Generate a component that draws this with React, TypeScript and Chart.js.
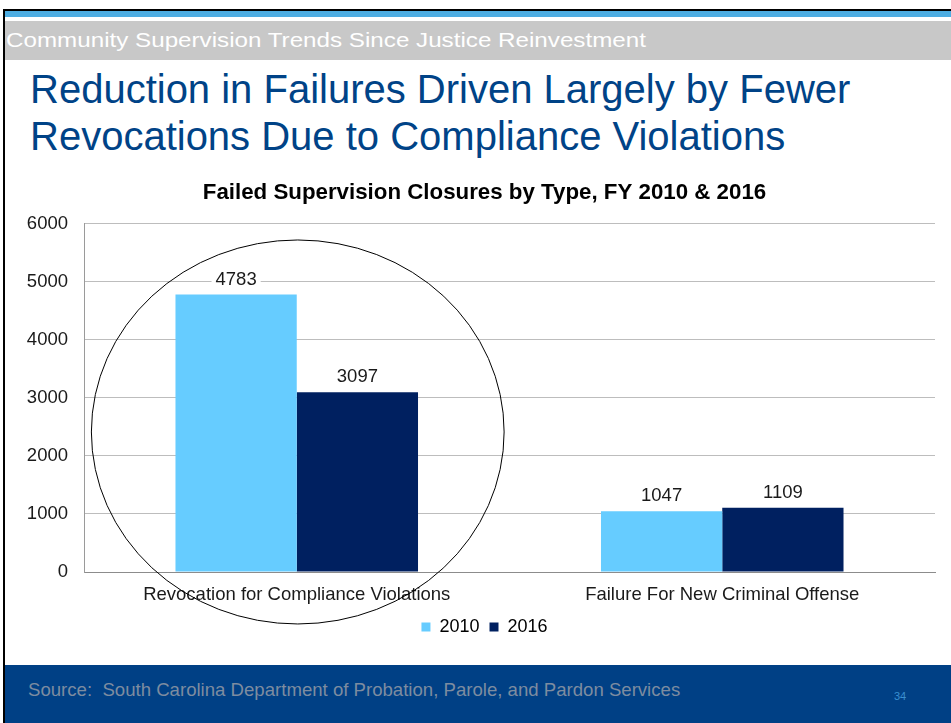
import React, { useEffect, useRef } from "react";
import { Chart, registerables } from "chart.js";

Chart.register(...registerables);

// ---- data ----
const categories = ["Revocation for Compliance Violations", "Failure For New Criminal Offense"];
const seriesNames = ["2010", "2016"];
const values2010 = [4783, 1047];
const values2016 = [3097, 1109];
const yMin = 0;
const yMax = 6000;
const yStep = 1000;
// highlight oval around the first category (centre value, vertical radius in value units)
const ovalCenterValue = 2414;
const ovalRadiusValue = 3310;
const ovalRadiusCategories = 0.485;

const COLOR_2010 = "#66CCFF";
const COLOR_2016 = "#002060";
const FONT = "'Liberation Sans', Arial, sans-serif";

const dataLabelPlugin = {
  id: "dataLabels",
  afterDatasetsDraw(chart: any) {
    const ctx = chart.ctx;
    ctx.save();
    ctx.font = `18.5px ${FONT}`;
    ctx.textAlign = "center";
    ctx.textBaseline = "middle";
    chart.data.datasets.forEach((ds: any, di: number) => {
      const meta = chart.getDatasetMeta(di);
      meta.data.forEach((el: any, i: number) => {
        const text = String(ds.data[i]);
        const w = ctx.measureText(text).width;
        const y = el.y - 15;
        ctx.fillStyle = "#ffffff";
        ctx.fillRect(el.x - w / 2 - 4, y - 10, w + 8, 20);
        ctx.fillStyle = "#1a1a1a";
        ctx.fillText(text, el.x, y);
      });
    });
    ctx.restore();
  },
};

const ovalPlugin = {
  id: "oval",
  afterDraw(chart: any) {
    const xs = chart.scales.x;
    const ys = chart.scales.y;
    const cx = xs.getPixelForValue(0);
    const step = xs.getPixelForValue(1) - cx;
    const cy = ys.getPixelForValue(ovalCenterValue);
    const ry = ys.getPixelForValue(0) - ys.getPixelForValue(ovalRadiusValue);
    const ctx = chart.ctx;
    ctx.save();
    ctx.beginPath();
    ctx.ellipse(cx + 1, cy, step * ovalRadiusCategories, ry, 0, 0, Math.PI * 2);
    ctx.strokeStyle = "#000000";
    ctx.lineWidth = 1;
    ctx.stroke();
    ctx.restore();
  },
};

function BarChart() {
  const ref = useRef<HTMLCanvasElement | null>(null);
  useEffect(() => {
    if (!ref.current) return;
    const chart = new Chart(ref.current, {
      type: "bar",
      data: {
        labels: categories,
        datasets: [
          { label: seriesNames[0], data: values2010, backgroundColor: COLOR_2010 },
          { label: seriesNames[1], data: values2016, backgroundColor: COLOR_2016 },
        ],
      },
      options: {
        animation: false,
        responsive: false,
        maintainAspectRatio: false,
        devicePixelRatio: 1,
        layout: { padding: { left: 14, right: 16, top: 0, bottom: 14 } },
        datasets: { bar: { categoryPercentage: 0.57, barPercentage: 1.0 } },
        plugins: {
          title: {
            display: true,
            text: "Failed Supervision Closures by Type, FY 2010 & 2016",
            color: "#000000",
            font: { family: FONT, size: 22.3, weight: "bold" },
            padding: { top: 19, bottom: 18.2 },
          },
          legend: {
            display: true,
            position: "bottom",
            labels: {
              color: "#000000",
              font: { family: FONT, size: 18 },
              boxWidth: 9,
              boxHeight: 9,
              padding: 10,
            },
          },
          tooltip: { enabled: false },
        },
        scales: {
          x: {
            grid: { display: false, drawTicks: false },
            border: { display: true, color: "#8c8c8c", width: 1 },
            ticks: { color: "#1a1a1a", font: { family: FONT, size: 18.5 }, padding: 12, maxRotation: 0 },
            afterFit: (s: any) => { s.height = 36; },
          },
          y: {
            min: yMin,
            max: yMax,
            ticks: {
              stepSize: yStep,
              color: "#1a1a1a",
              font: { family: FONT, size: 18.5 },
              padding: 16,
              callback: (v: any) => String(v),
            },
            grid: { color: "#bdbdbd", drawTicks: false, lineWidth: 1 },
            border: { display: true, color: "#9a9a9a", width: 1 },
            afterFit: (s: any) => {
              s.width = 50;
              // let the tick labels extend past the (narrow) scale box without clipping
              s._computeLabelArea = () => undefined;
            },
          },
        },
      },
      plugins: [dataLabelPlugin, ovalPlugin],
    } as any);
    return () => chart.destroy();
  }, []);
  return <canvas ref={ref} width={931} height={500} style={{ position: "absolute", left: 20, top: 160, width: 931, height: 500 }} />;
}

export default function App() {
  return (
    <div style={{ position: "fixed", left: 0, top: 0, width: 951, height: 723, background: "#ffffff", overflow: "hidden", fontFamily: FONT }}>
      {/* top rule + accent strips */}
      <div style={{ position: "absolute", left: 3, top: 9, width: 948, height: 2, background: "#000" }} />
      <div style={{ position: "absolute", left: 5, top: 11, width: 946, height: 6, background: "#4DADE2" }} />
      <div style={{ position: "absolute", left: 5, top: 21, width: 946, height: 39, background: "#C8C8C8" }} />
      <div style={{ position: "absolute", left: 6, top: 30, fontSize: 20.5, lineHeight: "20px", color: "#ffffff", whiteSpace: "nowrap", transform: "scaleX(1.18)", transformOrigin: "left top" }}>
        Community Supervision Trends Since Justice Reinvestment
      </div>
      {/* heading */}
      <div style={{ position: "absolute", left: 30, top: 66, fontSize: 40, lineHeight: "47px", color: "#004387", whiteSpace: "nowrap" }}>
        Reduction in Failures Driven Largely by Fewer
        <br />
        Revocations Due to Compliance Violations
      </div>
      <BarChart />
      {/* footer */}
      <div style={{ position: "absolute", left: 5, top: 665, width: 946, height: 58, background: "#004085" }} />
      <div style={{ position: "absolute", left: 28, top: 680, fontSize: 18.6, lineHeight: "20px", color: "#7d8ca0", whiteSpace: "nowrap" }}>
        Source:&nbsp; South Carolina Department of Probation, Parole, and Pardon Services
      </div>
      <div style={{ position: "absolute", left: 894, top: 690, fontSize: 11, lineHeight: "12px", color: "#3a8fd0" }}>34</div>
      {/* left rule */}
      <div style={{ position: "absolute", left: 3, top: 9, width: 2, height: 714, background: "#000" }} />
    </div>
  );
}
